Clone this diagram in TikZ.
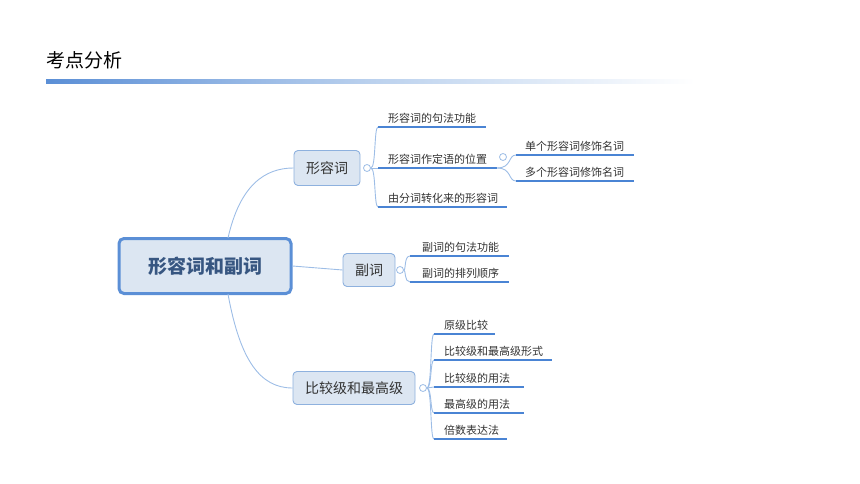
\documentclass[tikz,border=0pt]{standalone}
\usepackage{fontspec}
\setmainfont{Noto Sans CJK SC}
\definecolor{uline}{HTML}{4A84D4}
\definecolor{bline}{HTML}{9DBDE6}
\definecolor{boxfill}{HTML}{DCE6F2}
\definecolor{boxdraw}{HTML}{8EB1DE}
\definecolor{rootdraw}{HTML}{5B8FD6}
\definecolor{txt}{HTML}{333333}
\begin{document}
\begin{tikzpicture}[x=1pt,y=-1pt,
  topic/.style={draw=boxdraw,fill=boxfill,rounded corners=4pt,line width=0.9pt,inner sep=0,text=txt,font=\fontsize{14}{14}\selectfont},
  leaf/.style={font=\fontsize{11}{11}\selectfont,text=txt,anchor=south west,inner sep=2pt},
  ul/.style={draw=uline,line width=1.6pt},
  br/.style={draw=bline,line width=0.9pt},
  knob/.style={circle,draw=bline,fill=white,line width=0.8pt,minimum size=7pt,inner sep=0}]
\useasboundingbox (0,0) rectangle (860,484);
\node[anchor=west,font=\fontsize{19}{19}\selectfont,inner sep=0] (title) at (46,60) {考点分析};
\shade[left color=rootdraw,right color=white,middle color=bline!70] (46,80) rectangle (695,84);
% root
\node[draw=rootdraw,fill=boxfill,rounded corners=5pt,line width=3pt,minimum width=172pt,minimum height=55pt,font=\fontsize{19}{19}\selectfont\bfseries,text=rootdraw!60!black] (root) at (205,266) {形容词和副词};
\node[topic,minimum width=66pt,minimum height=35pt] (adj) at (327,168) {形容词};
\node[topic,minimum width=52pt,minimum height=33pt] (adv) at (369,270) {副词};
\node[topic,minimum width=122pt,minimum height=33pt] (cmp) at (354,388) {比较级和最高级};
\draw[br] (228,238) .. controls (240,185) and (265,168) .. (adj.west);
\draw[br] (root.east) -- (adv.west);
\draw[br] (228,294) .. controls (240,360) and (260,388) .. (cmp.west);
% adjective children
\node[knob] (k1) at (367,168) {};
\coordinate (a1) at (378,127); \coordinate (a1e) at (486,127);
\coordinate (a2) at (378,168); \coordinate (a2e) at (497,168);
\coordinate (a3) at (378,207); \coordinate (a3e) at (507,207);
\draw[br] (k1.east) -- (a2);
\draw[br] (k1.east) .. controls (376,168) and (374,127) .. (a1);
\draw[br] (k1.east) .. controls (376,168) and (374,207) .. (a3);
\draw[ul] (a1) -- (a1e); \draw[ul] (a2) -- (a2e); \draw[ul] (a3) -- (a3e);
\node[leaf] (t1) at (386,126) {形容词的句法功能};
\node[leaf] (t2) at (386,167) {形容词作定语的位置};
\node[leaf] (t3) at (386,206) {由分词转化来的形容词};
\node[knob] (k2) at (503,157) {};
\coordinate (b1) at (516,155); \coordinate (b1e) at (634,155);
\coordinate (b2) at (516,181); \coordinate (b2e) at (634,181);
\draw[br] (a2e) .. controls (512,168) and (508,155) .. (b1);
\draw[br] (a2e) .. controls (512,168) and (508,181) .. (b2);
\draw[ul] (b1) -- (b1e); \draw[ul] (b2) -- (b2e);
\node[leaf] (u1) at (523,154) {单个形容词修饰名词};
\node[leaf] (u2) at (523,180) {多个形容词修饰名词};
% adverb children
\node[knob] (k3) at (400,270) {};
\coordinate (c1) at (410,256); \coordinate (c1e) at (509,256);
\coordinate (c2) at (410,282); \coordinate (c2e) at (509,282);
\draw[br] (k3.east) .. controls (406,270) and (404,256) .. (c1);
\draw[br] (k3.east) .. controls (406,270) and (404,282) .. (c2);
\draw[ul] (c1) -- (c1e); \draw[ul] (c2) -- (c2e);
\node[leaf] (v1) at (420,255) {副词的句法功能};
\node[leaf] (v2) at (420,281) {副词的排列顺序};
% comparison children
\node[knob] (k4) at (423,388) {};
\coordinate (d1) at (434,334); \coordinate (d1e) at (495,334);
\coordinate (d2) at (434,360); \coordinate (d2e) at (552,360);
\coordinate (d3) at (434,387); \coordinate (d3e) at (524,387);
\coordinate (d4) at (434,413); \coordinate (d4e) at (524,413);
\coordinate (d5) at (434,439); \coordinate (d5e) at (507,439);
\draw[br] (k4.east) -- (d3);
\draw[br] (k4.east) .. controls (432,388) and (430,334) .. (d1);
\draw[br] (k4.east) .. controls (432,388) and (430,360) .. (d2);
\draw[br] (k4.east) .. controls (432,388) and (430,413) .. (d4);
\draw[br] (k4.east) .. controls (432,388) and (430,439) .. (d5);
\foreach \s/\e in {d1/d1e,d2/d2e,d3/d3e,d4/d4e,d5/d5e}{\draw[ul] (\s) -- (\e);}
\node[leaf] (w1) at (442,333) {原级比较};
\node[leaf] (w2) at (442,359) {比较级和最高级形式};
\node[leaf] (w3) at (442,386) {比较级的用法};
\node[leaf] (w4) at (442,412) {最高级的用法};
\node[leaf] (w5) at (442,438) {倍数表达法};
\end{tikzpicture}
\end{document}
